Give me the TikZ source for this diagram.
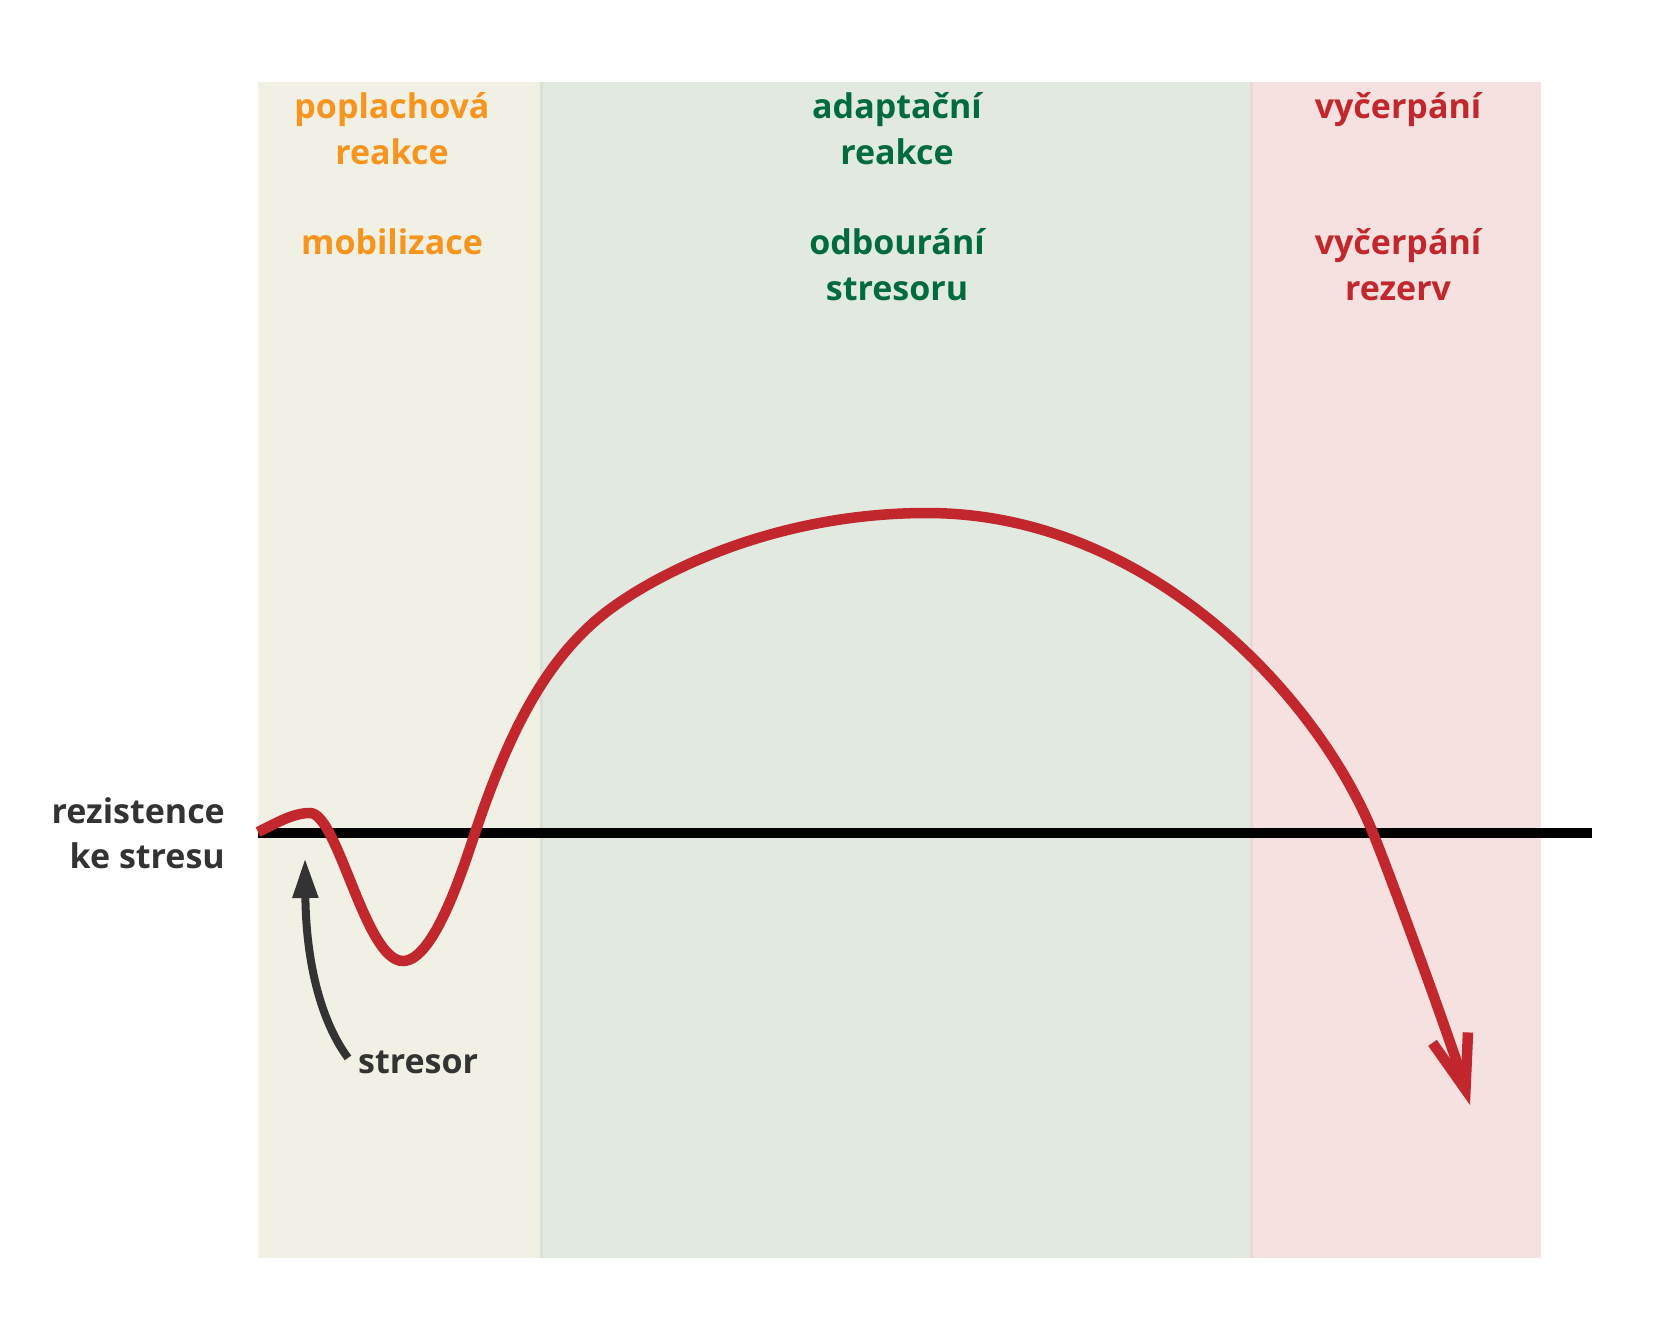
\documentclass[tikz,border=0pt]{standalone}
\usepackage{fontspec}
\setmainfont{Open Sans}
\usepackage{tikz}
\usetikzlibrary{arrows.meta,positioning}
\definecolor{alarmorange}{HTML}{F7941D}
\definecolor{adaptgreen}{HTML}{006B3C}
\definecolor{exhaustred}{HTML}{C1272D}
\definecolor{textgray}{HTML}{333333}
\definecolor{alarmbg}{HTML}{F1F0E5}
\definecolor{adaptbg}{HTML}{E2E9E0}
\definecolor{exhaustbg}{HTML}{F4E1E0}
\tikzstyle{phase}=[font=\bfseries\fontsize{34}{46}\selectfont,align=center,anchor=base,inner sep=0pt]
\tikzstyle{axistext}=[font=\bfseries\fontsize{34}{45}\selectfont,text=textgray,inner sep=0pt]
\tikzstyle{response}=[draw=exhaustred,line width=10.5pt,-{Straight Barb[length=54pt,width=37pt,sharp]}]
\tikzstyle{stressarrow}=[draw=textgray,line width=8pt,-{Triangle[length=40pt,width=24pt]}]

\begin{document}
\begin{tikzpicture}[x=1pt,y=-1pt]
  \useasboundingbox[fill=white] (0,0) rectangle (1665,1341);

  % phase bands
  \fill[alarmbg]   (258,82) rectangle (541,1258);
  \fill[adaptbg]   (541,82) rectangle (1251,1258);
  \fill[exhaustbg] (1251,82) rectangle (1541,1258);
  \draw[line width=3pt,adaptbg!96!black]   (541,82) -- (541,1258);
  \draw[line width=3pt,exhaustbg!96!black] (1251,82) -- (1251,1258);

  % labels (base = last line)
  \node[phase,text=alarmorange] (alarm)    at (392,164)  {poplachová\\reakce};
  \node[phase,text=alarmorange] (mobil)    at (392,254)  {mobilizace};
  \node[phase,text=adaptgreen]  (adapt)    at (897,164)  {adaptační\\reakce};
  \node[phase,text=adaptgreen]  (removal)  at (897,300)  {odbourání\\stresoru};
  \node[phase,text=exhaustred]  (exhaust)  at (1398,118) {vyčerpání};
  \node[phase,text=exhaustred]  (reserves) at (1398,300) {vyčerpání\\rezerv};

  \node[axistext,align=right,anchor=base east] (resist)  at (225,868)  {rezistence\\ke stresu};
  \node[axistext,anchor=base west]             (stresor) at (358,1073) {stresor};

  % resistance level
  \draw[line width=10pt,black] (258,833) -- (1592,833);

  % response curve
  \draw[response] (258,832) .. controls (275,824) and (292,813) .. (310,813)
        .. controls (338,813) and (365,961) .. (403,961)
        .. controls (435,961) and (465,862) .. (475,833)
        .. controls (507,738) and (542,665) .. (600,617)
        .. controls (646,579) and (767,513) .. (927,513)
        .. controls (1147,513) and (1316,694) .. (1373,833)
        .. controls (1392,880) and (1453,1047) .. (1470,1105);

  \coordinate (stressTip) at (305,858);
  \draw[stressarrow] ([xshift=-10pt,yshift=4pt]stresor.west)
        .. controls (320,1020) and (306,960) .. (stressTip);
\end{tikzpicture}
\end{document}
